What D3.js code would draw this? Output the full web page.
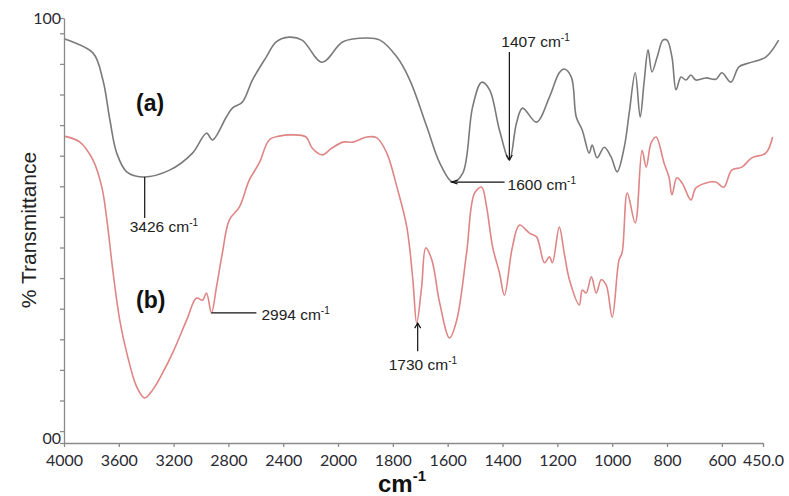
<!DOCTYPE html>
<html lang="en">
<head>
    <meta charset="UTF-8">
    <title>FTIR spectra</title>
    <script src="https://cdnjs.cloudflare.com/ajax/libs/d3/7.8.5/d3.min.js"></script>
    <style>
    html, body {
        margin: 0;
        background: white;
    }
    .tick text {
        font-family: Lato, "Open Sans", sans-serif;
        font-size: 16px;
        fill: #2a2a33;
    }
    .ann {
        font-family: "Liberation Sans", Arial, sans-serif;
        font-size: 15.5px;
        fill: #222;
    }
</style>
</head>
<body>
    <div id="chart"></div>
    <script>
    // wavenumber (cm-1) and % transmittance
    var waveA = [4000, 3789, 3716, 3665, 3615, 3542, 3426, 3229, 3062, 2960, 2916, 2815, 2771, 2698, 2625, 2524, 2451, 2356, 2262, 2116,
        1982, 1895, 1847, 1785, 1738, 1676, 1629, 1582, 1545, 1509, 1476, 1447, 1411, 1375, 1349, 1327, 1276, 1229, 1193, 1175,
        1149, 1131, 1109, 1084, 1073, 1055, 1029, 1004, 982, 956, 938, 916, 898, 884, 869, 855, 836, 815, 800, 782,
        767, 749, 731, 713, 695, 658, 622, 600, 567, 538, 502, 440, 393];
    var transA = [95.1, 91.8, 85.4, 76.0, 68.2, 63.8, 62.6, 64.2, 68.2, 72.9, 71.3, 76.7, 78.8, 80.2, 85.4, 90.8, 94.4, 95.5, 94.8, 89.6,
        94.4, 95.3, 94.8, 90.8, 85.4, 74.4, 65.9, 61.4, 63.5, 79.1, 84.9, 83.1, 73.6, 66.6, 75.3, 78.8, 75.5, 81.4, 87.1, 88.0,
        86.1, 76.7, 73.6, 68.2, 70.1, 67.1, 69.6, 67.3, 63.8, 69.6, 77.6, 87.1, 76.7, 84.7, 92.5, 87.3, 90.8, 94.8, 94.8, 90.8,
        83.1, 86.1, 85.4, 86.6, 85.4, 85.9, 85.6, 87.1, 84.9, 88.5, 89.4, 90.8, 94.8];

    var waveB = [4000, 3884, 3789, 3724, 3687, 3644, 3593, 3542, 3469, 3411, 3353, 3280, 3207, 3105, 3033, 2989, 2960, 2924, 2887, 2844,
        2793, 2720, 2647, 2575, 2502, 2429, 2335, 2233, 2189, 2116, 2044, 1982, 1945, 1895, 1858, 1822, 1785, 1749, 1727, 1713,
        1695, 1680, 1658, 1629, 1593, 1567, 1531, 1502, 1476, 1458, 1436, 1411, 1393, 1364, 1338, 1302, 1276, 1247, 1229, 1218,
        1193, 1175, 1156, 1120, 1109, 1095, 1076, 1058, 1040, 1022, 1000, 975, 964, 945, 916, 891, 876, 858, 840, 811,
        793, 782, 764, 745, 713, 695, 658, 622, 593, 564, 527, 491, 440, 415];
    var transB = [72.2, 70.8, 66.6, 60.2, 52.5, 40.7, 28.9, 21.2, 13.2, 10.6, 12.5, 16.5, 21.2, 28.9, 34.1, 33.6, 35.3, 30.6, 36.7, 44.7,
        52.5, 55.5, 61.9, 65.9, 71.3, 72.2, 72.5, 72.0, 69.4, 67.8, 69.4, 70.8, 70.8, 72.0, 71.8, 68.2, 60.2, 50.8, 38.4, 28.2,
        36.7, 45.9, 43.1, 32.9, 24.7, 28.9, 44.7, 58.8, 60.2, 55.5, 46.1, 40.0, 34.8, 46.1, 51.3, 49.4, 48.5, 42.4, 43.8, 42.4,
        50.8, 44.7, 38.4, 32.5, 36.0, 35.3, 39.1, 35.3, 38.4, 37.2, 29.6, 43.1, 44.7, 58.8, 51.8, 68.9, 64.9, 70.6, 72.0, 65.9,
        62.6, 58.4, 62.4, 61.2, 57.2, 60.0, 61.2, 61.4, 60.2, 64.2, 64.9, 67.1, 68.2, 72.0];

    var xTicks = [4000, 3600, 3200, 2800, 2400, 2000, 1800, 1600, 1400, 1200, 1000, 800, 600, 450];
    var yTicks = [0, 2.8, 10, 17.2, 24.4, 31.6, 38.8, 46, 53.2, 60.4, 67.6, 74.8, 82, 89.2, 96.4, 100];

    // peak labels: [wavenumber, transmittance, text]
    var peaks = [
        [3411, 62.6, '3426'],
        [2924, 30.6, '2994'],
        [1713, 28.2, '1730'],
        [1582, 61.4, '1600'],
        [1375, 66.6, '1407']
    ];

    var width = 789;
    var height = 496;

    var svg = d3.select('#chart')
        .append('svg')
            .attr('width', width)
            .attr('height', height);

    // the spectrometer axis doubles its scale below 2000 cm-1
    var x = d3.scaleLinear()
        .domain([4000, 2000, 450])
        .range([64, 338, 763]);

    var y = d3.scaleLinear()
        .domain([0, 100])
        .range([443, 18]);

    var line = d3.line()
        .x(function(d){ return x(d[0]); })
        .y(function(d){ return y(d[1]); })
        .curve(d3.curveCatmullRom.alpha(0.5));

    var dataA = waveA.map(function(w, i){ return [w, transA[i]]; });
    var dataB = waveB.map(function(w, i){ return [w, transB[i]]; });

    svg.append('path')
        .datum(dataA)
        .attr('fill', 'none')
        .attr('stroke', '#7a7a7a')
        .attr('stroke-width', 1.6)
        .attr('d', line);

    svg.append('path')
        .datum(dataB)
        .attr('fill', 'none')
        .attr('stroke', '#e08585')
        .attr('stroke-width', 1.6)
        .attr('d', line);

    var xAxis = svg.append('g')
        .attr('transform', 'translate(0,' + y(0) + ')')
        .call(d3.axisBottom(x)
            .tickValues(xTicks)
            .tickSize(4)
            .tickSizeOuter(0)
            .tickFormat(function(d){ return d === 450 ? '450.0' : d; }));

    xAxis.selectAll('text').attr('y', 11).attr('dy', '0.75em');

    var yAxis = svg.append('g')
        .attr('transform', 'translate(' + x(4000) + ',0)')
        .call(d3.axisLeft(y)
            .tickValues(yTicks)
            .tickSize(4)
            .tickSizeOuter(0)
            .tickFormat(function(d){
                if (d === 100) return '100';
                if (d === 0) return '00';
                return '';
            }));

    yAxis.selectAll('text')
        .attr('x', -3)
        .attr('dy', function(d){ return d === 0 ? '0.05em' : '0.32em'; });

    svg.selectAll('.domain, .tick line')
        .attr('stroke', '#8a8a8a')
        .attr('stroke-width', 1.3);

    // axis titles
    var xt = svg.append('text')
        .attr('x', 378)
        .attr('y', 492)
        .attr('font-family', '"Liberation Sans", Arial, sans-serif')
        .attr('font-weight', 'bold')
        .attr('font-size', 24)
        .attr('fill', '#111')
        .text('cm');
    xt.append('tspan')
        .attr('font-size', 15)
        .attr('dy', -11)
        .text('-1');

    svg.append('text')
        .attr('transform', 'translate(36,230) rotate(-90)')
        .attr('text-anchor', 'middle')
        .attr('font-family', '"Liberation Sans", Arial, sans-serif')
        .attr('font-size', 21)
        .attr('fill', '#222')
        .text('% Transmittance');

    // series labels
    svg.append('text')
        .attr('x', 136).attr('y', 111)
        .attr('font-family', '"Liberation Sans", Arial, sans-serif')
        .attr('font-weight', 'bold').attr('font-size', 23)
        .attr('fill', '#111')
        .text('(a)');

    svg.append('text')
        .attr('x', 136).attr('y', 308)
        .attr('font-family', '"Liberation Sans", Arial, sans-serif')
        .attr('font-weight', 'bold').attr('font-size', 23)
        .attr('fill', '#111')
        .text('(b)');

    // peak annotations
    function label(px, py, txt){
        var t = svg.append('text')
            .attr('class', 'ann')
            .attr('x', px)
            .attr('y', py)
            .text(txt + ' cm');
        t.append('tspan')
            .attr('font-size', 10)
            .attr('dy', -6)
            .text('-1');
    }

    function seg(x1, y1, x2, y2){
        svg.append('line')
            .attr('x1', x1).attr('y1', y1)
            .attr('x2', x2).attr('y2', y2)
            .attr('stroke', '#111')
            .attr('stroke-width', 1.2);
    }

    function head(px, py, dir){
        // small arrow head pointing along dir ('down', 'left', 'up')
        var pts;
        if (dir === 'down') pts = [[px - 3, py - 5], [px, py], [px + 3, py - 5]];
        if (dir === 'up') pts = [[px - 3, py + 5], [px, py], [px + 3, py + 5]];
        if (dir === 'left') pts = [[px + 6, py - 2], [px, py], [px + 6, py + 2]];
        svg.append('path')
            .attr('d', d3.line()(pts))
            .attr('fill', 'none')
            .attr('stroke', '#111')
            .attr('stroke-width', 1.2);
    }

    var p;
    // 3426
    p = peaks[0];
    seg(x(p[0]), y(p[1]), x(p[0]), y(p[1]) + 41);
    label(x(p[0]) - 15, y(p[1]) + 55, p[2]);

    // 2994
    p = peaks[1];
    seg(x(p[0]), y(p[1]), x(p[0]) + 45, y(p[1]));
    label(x(p[0]) + 50, y(p[1]) + 7, p[2]);

    // 1730
    p = peaks[2];
    seg(x(p[0]) + 1, y(p[1]), x(p[0]) + 1, y(p[1]) + 28);
    head(x(p[0]) + 1, y(p[1]), 'up');
    label(x(p[0]) - 28, y(p[1]) + 47, p[2]);

    // 1600
    p = peaks[3];
    seg(x(p[0]) - 1, y(p[1]), x(p[0]) + 52, y(p[1]));
    head(x(p[0]) - 1, y(p[1]), 'left');
    label(x(p[0]) + 55, y(p[1]) + 8, p[2]);

    // 1407
    p = peaks[4];
    seg(x(p[0]), y(p[1]), x(p[0]), y(p[1]) - 108);
    head(x(p[0]), y(p[1]), 'down');
    label(x(p[0]) - 8, y(p[1]) - 113, p[2]);
    </script>

</body>
</html>
